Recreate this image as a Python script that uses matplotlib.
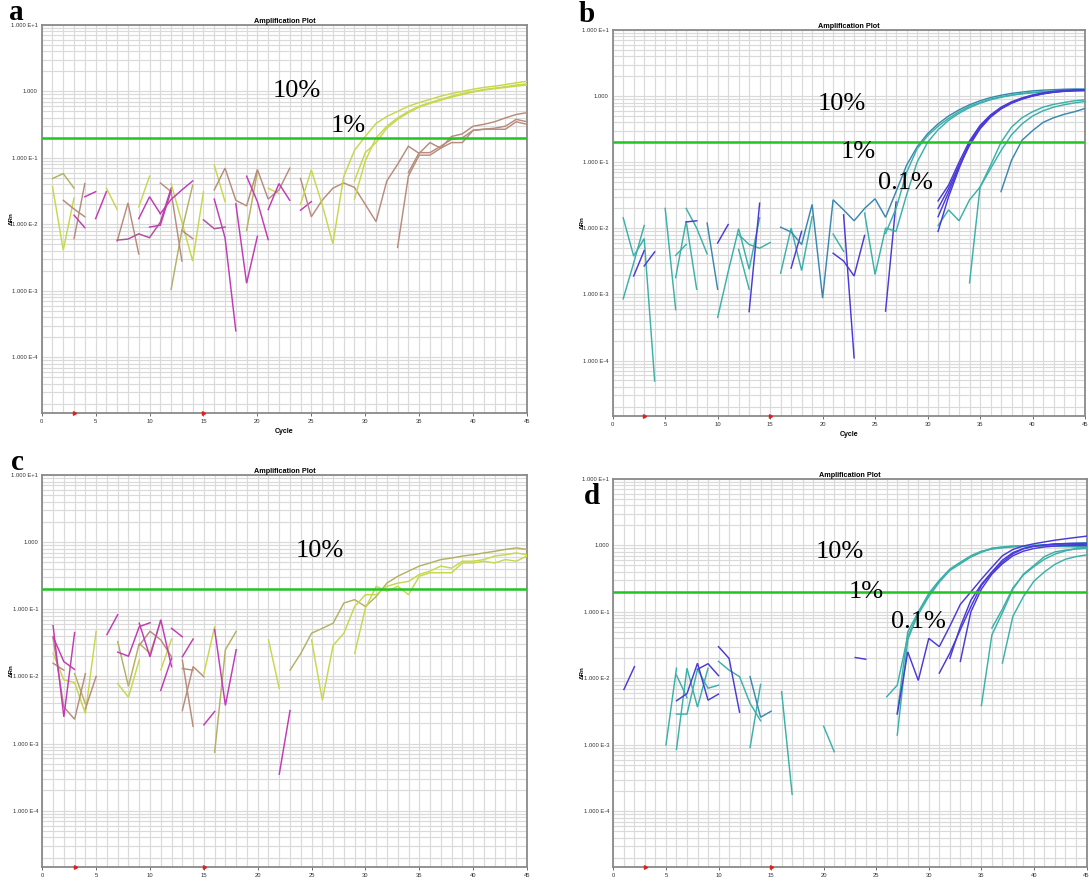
import numpy as np
import matplotlib
matplotlib.use("Agg")
import matplotlib.pyplot as plt
from matplotlib.ticker import FixedLocator, FuncFormatter, LogLocator, NullFormatter

# ---------------- data ----------------
cycles_max = 45
ytick_values = [1e-4, 1e-3, 1e-2, 1e-1, 1.0, 1e1]
ytick_labels = ["1.000 E-4", "1.000 E-3", "1.000 E-2", "1.000 E-1", "1.000", "1.000 E+1"]
xtick_values = [0, 5, 10, 15, 20, 25, 30, 35, 40, 45]
threshold = 0.2
baseline_marks = [3, 15]

# Panel a : (start cycle, values)
a_10pct = [
    (24, [0.02, 0.066, 0.02, 0.0051, 0.052, 0.13, 0.21, 0.33, 0.42, 0.50, 0.60, 0.68, 0.76, 0.85, 0.93, 1.00, 1.08, 1.15, 1.20, 1.27, 1.35, 1.42]),
    (29, [0.024, 0.09, 0.2, 0.3, 0.4, 0.5, 0.6, 0.68, 0.76, 0.85, 0.93, 1.0, 1.07, 1.12, 1.18, 1.25, 1.3]),
    (29, [0.045, 0.12, 0.17, 0.28, 0.38, 0.48, 0.58, 0.66, 0.74, 0.82, 0.9, 0.98, 1.05, 1.1, 1.15, 1.2, 1.25]),
]
a_1pct = [
    (24, [0.049, 0.013, 0.023, 0.035, 0.042, 0.036, 0.02, 0.011, 0.045, 0.08, 0.15, 0.117, 0.17, 0.14, 0.21, 0.23, 0.3, 0.32, 0.35, 0.4, 0.45, 0.48]),
    (33, [0.0045, 0.053, 0.11, 0.11, 0.14, 0.17, 0.17, 0.26, 0.27, 0.27, 0.27, 0.35, 0.32]),
    (34, [0.06, 0.12, 0.12, 0.15, 0.19, 0.2, 0.26, 0.27, 0.28, 0.3, 0.38, 0.35]),
]
a_noise_yellow = [
    (1, [0.037, 0.0041, 0.025]), (6, [0.035, 0.0167]), (9, [0.0183, 0.053]),
    (12, [0.041, 0.0108, 0.0028, 0.031]), (16, [0.078, 0.022]), (21, [0.035, 0.029]),
]
a_noise_olive = [
    (1, [0.049, 0.058, 0.035]), (12, [0.00105, 0.0081, 0.039]), (19, [0.0081, 0.062]),
]
a_noise_brown = [
    (2, [0.023, 0.017, 0.013]), (3, [0.0061, 0.041]), (7, [0.0056, 0.021, 0.0036]),
    (11, [0.042, 0.031, 0.0028]), (13, [0.0081, 0.0061]),
    (16, [0.033, 0.07, 0.023, 0.019, 0.067, 0.024, 0.033, 0.07]),
]
a_noise_magenta = [
    (3, [0.0137, 0.0089]), (4, [0.026, 0.031]), (5, [0.0122, 0.031]),
    (9, [0.0122, 0.026, 0.0145]), (10, [0.0091, 0.0097, 0.032]),
    (11, [0.0145, 0.0237, 0.033, 0.045]), (16, [0.024, 0.0063, 0.00025]),
    (18, [0.0205, 0.0013, 0.0066]), (19, [0.053, 0.022, 0.0059]),
    (21, [0.0167, 0.041, 0.023]), (24, [0.0163, 0.022]),
]
a_noise_purple = [
    (7, [0.0058, 0.006, 0.0072, 0.0063, 0.0108, 0.035]), (15, [0.0117, 0.0086, 0.0091]),
]

# Panel b
b_10pct_steel = [
    (16, [0.0104, 0.0088, 0.0057, 0.023, 0.00088, 0.027, 0.019, 0.013, 0.02, 0.028, 0.0147, 0.036, 0.09, 0.17, 0.27, 0.38, 0.5, 0.62, 0.74, 0.85, 0.95, 1.03, 1.1, 1.15, 1.2, 1.23, 1.25, 1.27, 1.28, 1.28]),
]
b_10pct_teal = [
    (24, [0.017, 0.002, 0.0101, 0.009, 0.032, 0.1, 0.2, 0.31, 0.43, 0.55, 0.67, 0.78, 0.88, 0.96, 1.03, 1.08, 1.12, 1.16, 1.18, 1.2, 1.22, 1.22]),
    (26, [0.0084, 0.02, 0.07, 0.16, 0.25, 0.35, 0.46, 0.58, 0.7, 0.8, 0.9, 0.98, 1.04, 1.1, 1.14, 1.17, 1.19, 1.2, 1.21, 1.2]),
]
b_1pct = [
    (31, [0.026, 0.045, 0.1, 0.21, 0.36, 0.52, 0.68, 0.82, 0.94, 1.04, 1.12, 1.18, 1.22, 1.24, 1.25]),
    (31, [0.02, 0.04, 0.09, 0.19, 0.33, 0.5, 0.66, 0.8, 0.92, 1.02, 1.1, 1.16, 1.2, 1.23, 1.24]),
    (31, [0.015, 0.035, 0.085, 0.18, 0.32, 0.48, 0.64, 0.78, 0.9, 1.0, 1.08, 1.14, 1.18, 1.2, 1.22]),
    (31, [0.009, 0.03, 0.08, 0.2, 0.35, 0.5, 0.65, 0.79, 0.91, 1.01, 1.09, 1.15, 1.19, 1.22, 1.23]),
]
b_01pct_teal = [
    (31, [0.011, 0.019, 0.013, 0.027, 0.042, 0.08, 0.15, 0.26, 0.38, 0.5, 0.6, 0.68, 0.74, 0.79, 0.83]),
    (34, [0.0015, 0.042, 0.09, 0.2, 0.34, 0.47, 0.58, 0.68, 0.75, 0.8, 0.85, 0.88]),
]
b_01pct_steel = [
    (37, [0.036, 0.107, 0.215, 0.3, 0.4, 0.47, 0.53, 0.58, 0.65]),
]
b_noise_teal = [
    (1, [0.0144, 0.0038, 0.007, 4.9e-5]), (1, [8.6e-4, 0.003, 0.011]), (5, [0.02, 5.9e-4]),
    (6, [0.0018, 0.0128, 0.0012]), (6, [0.0039, 0.0057]), (7, [0.02, 0.0101, 0.0041]),
    (10, [4.5e-4, 0.0022, 0.0099, 0.0024, 0.0144]), (12, [0.0048, 0.0012]),
    (12, [0.008, 0.0057, 0.005, 0.0061]), (16, [0.0021, 0.0101, 0.0023, 0.015]),
    (21, [0.0082, 0.0045]),
]
b_noise_steel = [(9, [0.012, 0.0012])]
b_noise_blue = [
    (2, [0.0019, 0.0046]), (3, [0.0027, 0.0044]), (7, [0.0125, 0.013]), (10, [0.006, 0.0114]),
    (13, [5.5e-4, 0.024]), (17, [0.0025, 0.009]), (21, [0.0042, 0.0032, 0.0019, 0.0078]),
    (22, [0.016, 1.1e-4]), (26, [5.6e-4, 0.025]),
]

# Panel c
c_10pct_olive = [
    (23, [0.0124, 0.022, 0.044, 0.052, 0.062, 0.124, 0.139, 0.11, 0.155, 0.246, 0.31, 0.37, 0.44, 0.49, 0.55, 0.58, 0.62, 0.65, 0.69, 0.73, 0.78, 0.82, 0.78]),
]
c_10pct_yellow = [
    (25, [0.035, 0.0044, 0.029, 0.044, 0.11, 0.165, 0.165, 0.22, 0.245, 0.26, 0.33, 0.37, 0.44, 0.41, 0.52, 0.52, 0.55, 0.62, 0.65, 0.69, 0.65]),
    (29, [0.022, 0.104, 0.22, 0.185, 0.22, 0.165, 0.31, 0.35, 0.35, 0.35, 0.49, 0.49, 0.52, 0.49, 0.55, 0.52, 0.62]),
]
c_noise_magenta = [
    (1, [0.057, 0.0025, 0.045]), (1, [0.039, 0.0166, 0.0127]), (6, [0.042, 0.083]),
    (7, [0.023, 0.02, 0.055, 0.063]), (9, [0.062, 0.0196, 0.07, 0.014]), (11, [0.0062, 0.0186]),
    (12, [0.052, 0.039]), (13, [0.0196, 0.036]), (15, [0.0019, 0.003]),
    (16, [0.05, 0.0037, 0.025]), (22, [3.5e-4, 0.0031]),
]
c_noise_brown = [
    (1, [0.0157, 0.0124]), (1, [0.037, 0.0035, 0.0023, 0.011]), (4, [0.0033, 0.01]),
    (9, [0.029, 0.047, 0.035, 0.0196]), (13, [0.0131, 0.0124]), (13, [0.0031, 0.014, 0.0099]),
    (13, [0.0175, 0.0018]),
]
c_noise_yellow = [
    (1, [0.022, 0.0089, 0.0081, 0.0028, 0.047]), (7, [0.0078, 0.0049, 0.0176]),
    (11, [0.0125, 0.036]), (15, [0.011, 0.055]), (21, [0.035, 0.0066]),
]
c_noise_olive = [
    (3, [0.011, 0.0039]), (7, [0.033, 0.0071, 0.031, 0.022, 0.066]), (16, [0.00074, 0.025, 0.047]),
]

# Panel d
d_10pct = [
    (26, [0.0053, 0.0079, 0.043, 0.092, 0.17, 0.28, 0.42, 0.53, 0.67, 0.79, 0.91, 0.95, 0.98, 0.99, 1.0, 1.0, 1.0, 0.99, 0.97, 0.95]),
    (27, [0.0014, 0.038, 0.097, 0.18, 0.29, 0.43, 0.55, 0.68, 0.8, 0.9, 0.94, 0.97, 0.98, 0.99, 0.98, 0.97, 0.96, 0.95, 0.94]),
    (27, [0.003, 0.05, 0.1, 0.19, 0.3, 0.44, 0.56, 0.7, 0.82, 0.88, 0.92, 0.95, 0.97, 1.0, 1.02, 1.04, 1.06, 1.08, 1.1]),
]
d_1pct = [
    (27, [0.0029, 0.025, 0.0093, 0.04, 0.03, 0.061, 0.13, 0.2, 0.31, 0.47, 0.7, 0.87, 0.98, 1.06, 1.13, 1.2, 1.26, 1.32, 1.38]),
    (31, [0.012, 0.024, 0.054, 0.12, 0.25, 0.39, 0.56, 0.75, 0.89, 0.97, 1.01, 1.05, 1.07, 1.08, 1.08]),
    (33, [0.018, 0.1, 0.22, 0.37, 0.53, 0.7, 0.82, 0.9, 0.95, 0.98, 1.0, 1.0, 1.0]),
    (32, [0.02, 0.06, 0.15, 0.26, 0.4, 0.6, 0.78, 0.9, 0.98, 1.02, 1.05, 1.05, 1.04, 1.02]),
]
d_01pct = [
    (35, [0.0039, 0.045, 0.097, 0.22, 0.37, 0.5, 0.68, 0.8, 0.85, 0.88, 0.9]),
    (36, [0.057, 0.11, 0.23, 0.36, 0.48, 0.62, 0.74, 0.83, 0.9, 0.93]),
    (37, [0.017, 0.086, 0.17, 0.29, 0.4, 0.52, 0.62, 0.68, 0.72]),
]
d_noise_blue = [
    (1, [0.0068, 0.015]), (6, [0.0046, 0.0059, 0.0169, 0.0047, 0.0058]),
    (8, [0.0137, 0.0166, 0.011]), (10, [0.03, 0.02, 0.0031]), (23, [0.0206, 0.0194]),
]
d_noise_teal = [
    (5, [0.001, 0.0142]), (6, [0.0112, 0.0051]), (6, [0.00085, 0.0142, 0.0037, 0.0142]),
    (6, [0.0029, 0.0029, 0.0137, 0.0071, 0.0079]), (10, [0.018, 0.0133, 0.0106, 0.0042, 0.0023]),
    (13, [0.00091, 0.0081]), (16, [0.0063, 0.00018]), (20, [0.0019, 0.00079]),
]
d_noise_steel = [(13, [0.0106, 0.0026, 0.0032])]

# ---------------- styling ----------------
W, H = 1089, 882
YLOW, YHIGH = 1.45e-5, 10.0
C_YEL = "#c6d84c"
C_OLV = "#b4b064"
C_BRN = "#b88c7c"
C_MAG = "#c23ab6"
C_PUR = "#b0509a"
C_TEAL = "#3bb1a9"
C_STEEL = "#3a88b2"
C_BLUE = "#4a3ad8"
GRID = "#dadada"
GREEN = "#22c422"
SANS = "Liberation Sans"
SERIF = "Liberation Serif"

fig = plt.figure(figsize=(W / 100, H / 100), dpi=100)


def make_ax(left, right, top, bottom):
    return fig.add_axes([left / W, 1 - bottom / H, (right - left) / W, (bottom - top) / H])


def fmt_y(v, pos):
    for tv, tl in zip(ytick_values, ytick_labels):
        if abs(np.log10(v) - np.log10(tv)) < 1e-6:
            return tl
    return ""


def setup(ax, show_cycle):
    ax.set_yscale("log")
    ax.set_xlim(0, cycles_max)
    ax.set_ylim(YLOW, YHIGH)
    ax.yaxis.set_major_locator(FixedLocator(ytick_values))
    ax.yaxis.set_major_formatter(FuncFormatter(fmt_y))
    ax.yaxis.set_minor_locator(LogLocator(base=10, subs=np.arange(2, 10), numticks=20))
    ax.yaxis.set_minor_formatter(NullFormatter())
    ax.set_xticks(xtick_values)
    ax.set_xticks(np.arange(0, cycles_max + 1), minor=True)
    ax.grid(True, which="both", axis="both", color=GRID, lw=0.85, zorder=0)
    ax.set_axisbelow(True)
    ax.tick_params(axis="both", which="major", labelsize=4.2, length=2, width=0.6,
                   colors="#555555", labelcolor="#333333", pad=2)
    ax.tick_params(axis="both", which="minor", length=0)
    ax.tick_params(axis="y", which="major", length=0, pad=3)
    for lab in ax.get_xticklabels() + ax.get_yticklabels():
        lab.set_fontfamily(SANS)
    for s in ax.spines.values():
        s.set_color("#8a8a8a")
        s.set_linewidth(1.3)
    ax.set_title("Amplification Plot", fontsize=5.2, fontweight="bold", family=SANS, pad=1.5)
    ax.set_ylabel("\u0394Rn", fontsize=4.5, fontweight="bold", family=SANS, labelpad=-2)
    if show_cycle:
        ax.set_xlabel("Cycle", fontsize=5, fontweight="bold", family=SANS, labelpad=3)
    ax.axhline(threshold, color=GREEN, lw=1.8, zorder=5)
    ax.plot(baseline_marks, [YLOW] * len(baseline_marks), ls="none", marker=(3, 0, 30),
            ms=3, color="#e02020", clip_on=False, zorder=6)


def draw(ax, frags, color, lw=1.05):
    for start, vals in frags:
        x = np.arange(start, start + len(vals))
        ax.plot(x, vals, color=color, lw=lw, zorder=3, solid_joinstyle="miter")


def label(x_px, y_px, s, size=19):
    fig.text(x_px / W, 1 - y_px / H, s, fontsize=size, family=SERIF, ha="center", va="center", zorder=10)


# Panel a
ax_a = make_ax(41.7, 527, 25, 413)
setup(ax_a, True)
draw(ax_a, a_noise_yellow, C_YEL)
draw(ax_a, a_noise_olive, C_OLV)
draw(ax_a, a_noise_brown, C_BRN)
draw(ax_a, a_noise_purple, C_PUR)
draw(ax_a, a_noise_magenta, C_MAG)
draw(ax_a, a_1pct, C_BRN)
draw(ax_a, a_10pct, C_YEL)

# Panel b
ax_b = make_ax(612.7, 1085, 30, 416)
setup(ax_b, True)
draw(ax_b, b_noise_teal, C_TEAL)
draw(ax_b, b_noise_steel, C_STEEL)
draw(ax_b, b_noise_blue, C_BLUE)
draw(ax_b, b_10pct_steel, C_STEEL)
draw(ax_b, b_10pct_teal, C_TEAL)
draw(ax_b, b_01pct_teal, C_TEAL)
draw(ax_b, b_01pct_steel, C_STEEL)
draw(ax_b, b_1pct, C_BLUE)

# Panel c
ax_c = make_ax(42.3, 527, 475, 867)
setup(ax_c, False)
draw(ax_c, c_noise_yellow, C_YEL)
draw(ax_c, c_noise_olive, C_OLV)
draw(ax_c, c_noise_brown, C_BRN)
draw(ax_c, c_noise_magenta, C_MAG)
draw(ax_c, c_10pct_olive, C_OLV)
draw(ax_c, c_10pct_yellow, C_YEL)

# Panel d
ax_d = make_ax(613.4, 1086.5, 479, 867)
setup(ax_d, False)
draw(ax_d, d_noise_teal, C_TEAL)
draw(ax_d, d_noise_steel, C_STEEL)
draw(ax_d, d_noise_blue, C_BLUE)
draw(ax_d, d_10pct, C_TEAL)
draw(ax_d, d_01pct, C_TEAL)
draw(ax_d, d_1pct, C_BLUE)

# annotations
label(297, 91, "10%")
label(348, 126, "1%")
label(842, 104, "10%")
label(858, 152, "1%")
label(905, 183, "0.1%")
label(320, 551, "10%")
label(840, 552, "10%")
label(866, 592, "1%")
label(918, 622, "0.1%")

for x_px, y_px, s in [(16, 13, "a"), (587, 15, "b"), (17, 462, "c"), (592, 497, "d")]:
    fig.text(x_px / W, 1 - y_px / H, s, fontsize=21, family=SERIF, fontweight="bold",
             ha="center", va="center", zorder=10)

fig.savefig("out.png", dpi=100, facecolor="white")
